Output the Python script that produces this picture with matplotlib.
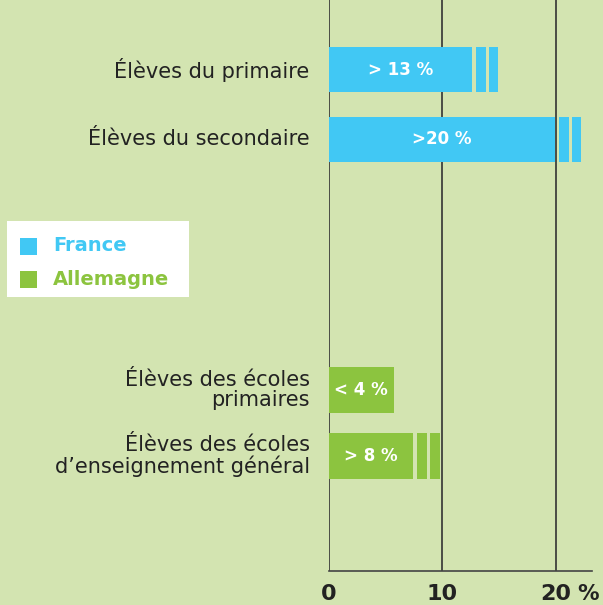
import matplotlib.pyplot as plt
from matplotlib.patches import Rectangle

# values
labels = ["Élèves du primaire", "Élèves du secondaire",
          "Élèves des écoles\nprimaires", "Élèves des écoles\nd\u2019enseignement général"]
values = [12.6, 19.9, 5.7, 7.4]
bar_text = ["> 13 %", ">20 %", "< 4 %", "> 8 %"]
country = ["France", "France", "Allemagne", "Allemagne"]
broken = [True, True, False, True]
ypos = [7.2, 6.2, 2.6, 1.65]
xticks = [0, 10, 20]

bg = "#d3e4b1"
colors = {"France": "#41c8f4", "Allemagne": "#8cc43f"}
dark = "#222222"

fig = plt.figure(figsize=(6.03, 6.05), dpi=100)
fig.patch.set_facecolor(bg)
ax = fig.add_axes([329 / 603, 34 / 605, (592 - 329) / 603, 571 / 605])
ax.set_facecolor(bg)
ax.set_xlim(0, 23.2)
ax.set_ylim(0, 8.2)

h = 0.65
for lab, v, y, c, t, b in zip(labels, values, ypos, country, bar_text, broken):
    col = colors[c]
    ax.barh(y, v, height=h, color=col, zorder=3)
    if b:
        # the little "broken" pieces after the bar
        ax.barh(y, 0.85, left=v + 0.4, height=h, color=col, zorder=3)
        ax.barh(y, 0.85, left=v + 1.5, height=h, color=col, zorder=3)
    ax.text(v / 2, y, t, ha="center", va="center", color="white",
            fontsize=12, fontweight="bold", zorder=4)
    ax.text(-1.7, y, lab, ha="right", va="center",
            fontsize=15, color=dark, linespacing=1.0)

for x in xticks:
    ax.axvline(x, color="#333333", lw=1.2, zorder=2)

for s in ["top", "right", "left"]:
    ax.spines[s].set_visible(False)
ax.spines["bottom"].set_color("#444444")
ax.spines["bottom"].set_linewidth(1.2)
ax.set_yticks([])
ax.set_xticks(xticks)
ax.set_xticklabels(["0", "10", "20"], fontsize=16, fontweight="bold", color=dark)
ax.tick_params(axis="x", length=0, pad=9)
ax.annotate("%", xy=(21.9, 0), xycoords=("data", "axes fraction"),
            xytext=(0, -9), textcoords="offset points", ha="left", va="top",
            fontsize=15.5, fontweight="bold", color=dark, annotation_clip=False)

# legend box
fig.patches.append(Rectangle((7 / 603, 1 - 297 / 605), 182 / 603, 76 / 605,
                             transform=fig.transFigure, facecolor="white",
                             edgecolor="none"))
for i, c in enumerate(["France", "Allemagne"]):
    yc = 1 - (246 + 33 * i) / 605
    fig.patches.append(Rectangle((20 / 603, yc - 9 / 605), 17 / 603, 17 / 605,
                                 transform=fig.transFigure,
                                 facecolor=colors[c], edgecolor="none"))
    fig.text(53 / 603, yc, c, ha="left", va="center", fontsize=14,
             fontweight="bold", color=colors[c])

fig.savefig("out.png", dpi=100, facecolor=bg)
